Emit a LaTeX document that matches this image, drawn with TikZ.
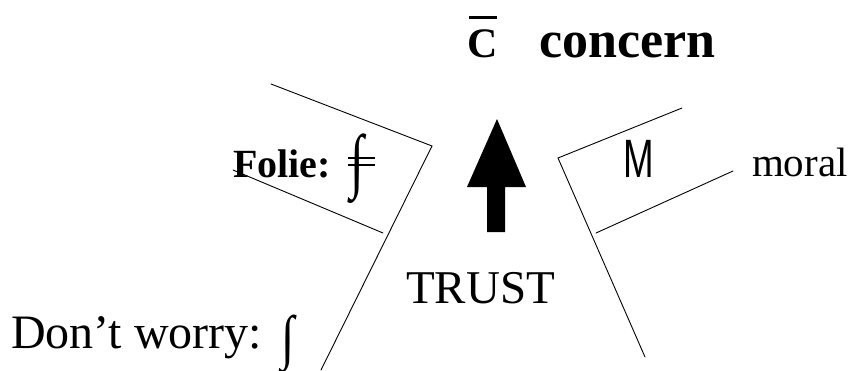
\documentclass[tikz,border=0pt]{standalone}
\usepackage{fontspec}
\setmainfont{Liberation Serif}
\newfontfamily\labelsans{Liberation Sans}

% tall upright integral: #1 font size, #2 vertical stretch, #3 baseline shift
\newcommand{\tallint}[3]{\raisebox{#3}{\fontsize{#1}{#1}\selectfont\scalebox{1}[#2]{∫}}}
% integral crossed by two short horizontal bars
\newcommand{\dblbarint}{\leavevmode
  \rlap{\raisebox{18pt}{\rule{27pt}{1.6pt}}}%
  \rlap{\raisebox{11pt}{\rule{27pt}{1.6pt}}}%
  \hspace{2pt}\tallint{50pt}{1.42}{-7pt}}

\tikzset{
  frame/.style={line width=0.9pt, line cap=round, line join=miter},
  lbl/.style={anchor=base west, inner sep=0pt, outer sep=0pt},
}

\begin{document}
\begin{tikzpicture}[x=1pt, y=-1pt]
  \useasboundingbox (0,0) rectangle (855,370);

  % title
  \node[lbl, font=\fontsize{42}{42}\selectfont\bfseries] (cbar) at (467,57) {C};
  \fill (469,15.5) rectangle (497,18.5);
  \node[lbl, font=\fontsize{52}{52}\selectfont\bfseries] (concern) at (539,57) {concern};

  % left frame
  \coordinate (lt) at (271,84);
  \coordinate (lc) at (432,146);
  \coordinate (lb) at (321,370);
  \coordinate (la) at (233,170);
  \coordinate (lz) at (383,233);
  \draw[frame] (lt) -- (lc) -- (lb);
  \draw[frame] (la) -- (lz);

  % right frame
  \coordinate (rt) at (682,108);
  \coordinate (rc) at (558,158);
  \coordinate (rb) at (645,357);
  \coordinate (ra) at (596,233);
  \coordinate (rz) at (733,171);
  \draw[frame] (rt) -- (rc) -- (rb);
  \draw[frame] (ra) -- (rz);

  % central block arrow
  \fill (487,232) -- (487,187) -- (467,187) -- (497,119) -- (526,187)
        -- (505,187) -- (505,232) -- cycle;

  % labels
  \node[lbl, font=\fontsize{40}{40}\selectfont\bfseries] (folie) at (233,177) {Folie:};
  \node[lbl, font=\fontsize{40}{40}\selectfont] (fint) at (348,177) {\dblbarint};
  \node[lbl, font=\labelsans\fontsize{54}{54}\selectfont] (m) at (623,177)
    {\scalebox{0.68}[1]{M}};
  \node[lbl, font=\fontsize{41}{41}\selectfont] (moral) at (752,176) {moral};
  \node[lbl, font=\fontsize{47}{47}\selectfont] (trust) at (406,303) {TRUST};
  \node[lbl, font=\fontsize{48}{48}\selectfont] (worry) at (11,348)
    {Don’t worry:\hspace{3pt} \tallint{48pt}{1.24}{-9pt}};
\end{tikzpicture}
\end{document}
